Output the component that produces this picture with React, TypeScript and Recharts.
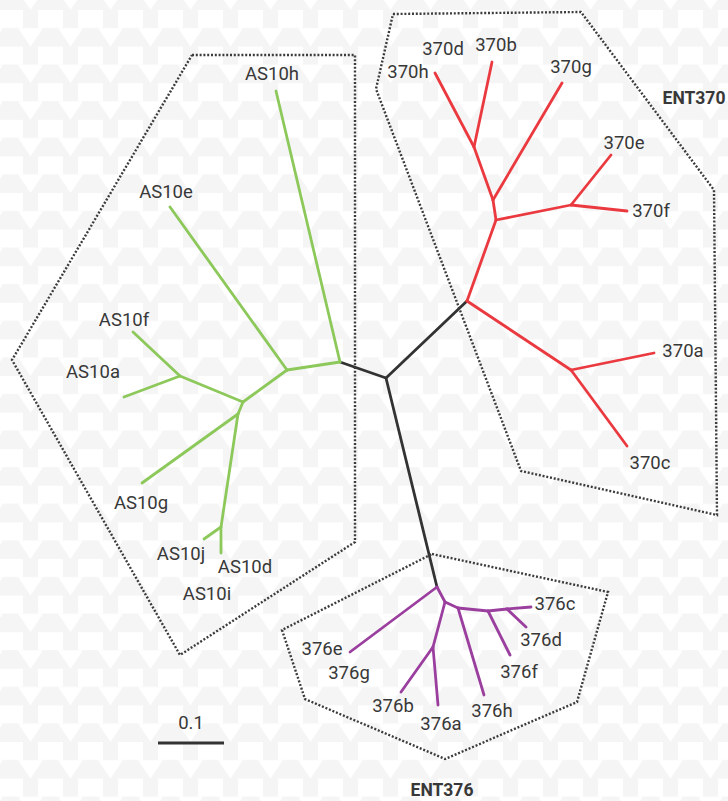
import React from 'react';
import { ComposedChart, XAxis, YAxis, Scatter, ReferenceLine } from 'recharts';

// Tree layout (unrooted tree), node id, x, y in layout units
const coreNodes: [string, number, number][] = [
  ['root', 386, 378],
  ['g0', 340, 362],
  ['r0', 467, 301],
  ['p0', 437, 587],
];
const as10Nodes: [string, number, number][] = [
  ['g1', 287, 370], ['g2', 243, 402], ['g3', 180, 376], ['g4', 238, 414], ['g5', 221, 527],
  ['AS10h', 276, 91], ['AS10e', 170, 207], ['AS10f', 133, 332], ['AS10a', 124, 397],
  ['AS10g', 142, 483], ['AS10j', 204, 539], ['AS10d', 221, 553],
];
const ent370Nodes: [string, number, number][] = [
  ['r1', 496, 220], ['r2', 493, 200], ['r3', 474, 147], ['r4', 571, 205], ['r5', 571, 370],
  ['370h', 435, 73], ['370b', 492, 62], ['370g', 562, 83], ['370e', 611, 155],
  ['370f', 627, 211], ['370a', 654, 353], ['370c', 627, 446],
];
const ent376Nodes: [string, number, number][] = [
  ['p1', 445, 602], ['p2', 433, 647], ['p3', 458, 608], ['p4', 488, 611], ['p5', 507, 609],
  ['376e', 350, 652], ['376b', 401, 692], ['376a', 438, 705], ['376h', 484, 695],
  ['376f', 510, 655], ['376c', 531, 607], ['376d', 526, 627],
];

const coreEdges: [string, string][] = [['root', 'g0'], ['root', 'r0'], ['root', 'p0']];
const as10Edges: [string, string][] = [
  ['g0', 'AS10h'], ['g0', 'g1'], ['g1', 'AS10e'], ['g1', 'g2'], ['g2', 'g3'], ['g3', 'AS10f'],
  ['g3', 'AS10a'], ['g2', 'g4'], ['g4', 'AS10g'], ['g4', 'g5'], ['g5', 'AS10j'], ['g5', 'AS10d'],
];
const ent370Edges: [string, string][] = [
  ['r0', 'r1'], ['r1', 'r2'], ['r2', 'r3'], ['r3', '370h'], ['r3', '370b'], ['r2', '370g'],
  ['r1', 'r4'], ['r4', '370e'], ['r4', '370f'], ['r0', 'r5'], ['r5', '370a'], ['r5', '370c'],
];
const ent376Edges: [string, string][] = [
  ['p0', '376e'], ['p0', 'p1'], ['p1', 'p2'], ['p2', '376b'], ['p2', '376a'], ['p1', 'p3'],
  ['p3', '376h'], ['p3', 'p4'], ['p4', '376f'], ['p4', 'p5'], ['p5', '376c'], ['p5', '376d'],
];

const tipLabels = [
  { name: 'AS10h', x: 272, y: 74 }, { name: 'AS10e', x: 166, y: 192 }, { name: 'AS10f', x: 124, y: 320 },
  { name: 'AS10a', x: 93, y: 372 }, { name: 'AS10g', x: 141, y: 503 }, { name: 'AS10j', x: 181, y: 554 },
  { name: 'AS10d', x: 245, y: 567 }, { name: 'AS10i', x: 207, y: 594 },
  { name: '370d', x: 443, y: 49 }, { name: '370h', x: 408, y: 72 }, { name: '370b', x: 496, y: 45 },
  { name: '370g', x: 571, y: 67 }, { name: '370e', x: 624, y: 143 }, { name: '370f', x: 651, y: 211 },
  { name: '370a', x: 683, y: 351 }, { name: '370c', x: 650, y: 463 },
  { name: '376e', x: 322, y: 649 }, { name: '376g', x: 349, y: 673 }, { name: '376b', x: 393, y: 706 },
  { name: '376a', x: 441, y: 724 }, { name: '376h', x: 492, y: 711 }, { name: '376f', x: 519, y: 672 },
  { name: '376d', x: 541, y: 640 }, { name: '376c', x: 555, y: 604 },
];
const cladeTitles = [
  { name: 'ENT370', x: 694, y: 98 },
  { name: 'ENT376', x: 442, y: 790 },
];

const as10Hull = [
  { x: 192, y: 55 }, { x: 355, y: 55 }, { x: 355, y: 542 }, { x: 180, y: 655 }, { x: 12, y: 360 }, { x: 192, y: 55 },
];
const ent370Hull = [
  { x: 393, y: 14 }, { x: 581, y: 12 }, { x: 714, y: 190 }, { x: 717, y: 515 }, { x: 521, y: 471 },
  { x: 376, y: 89 }, { x: 393, y: 14 },
];
const ent376Hull = [
  { x: 432, y: 554 }, { x: 608, y: 592 }, { x: 577, y: 702 }, { x: 445, y: 759 }, { x: 305, y: 699 },
  { x: 282, y: 630 }, { x: 432, y: 554 },
];

const scaleBarValue = '0.1';
const scaleBar = [{ x: 158, y: 743 }, { x: 224, y: 743 }];
const scaleBarLabel = [{ name: scaleBarValue, x: 191, y: 723 }];

const allNodes = [...coreNodes, ...as10Nodes, ...ent370Nodes, ...ent376Nodes];
const nodeMap: Record<string, { x: number; y: number }> = {};
allNodes.forEach(([id, x, y]) => { nodeMap[id] = { x, y }; });

const groups = [
  { edges: coreEdges, color: '#333333' },
  { edges: as10Edges, color: '#8cc85a' },
  { edges: ent370Edges, color: '#ea3a40' },
  { edges: ent376Edges, color: '#9b3f9f' },
];

const W = 728;
const H = 801;
const TEXT = '#383838';

const Background = () => (
  <svg width={W} height={H} style={{ position: 'absolute', left: 0, top: 0 }}>
    <defs>
      <pattern id="bgpat" width={40} height={36.6} patternUnits="userSpaceOnUse" patternTransform="translate(38,10)">
        <rect x={0} y={0} width={40} height={36.6} fill="#f5f5f5" />
        <rect x={0} y={0} width={25} height={18} fill="#ffffff" />
        <polygon points="20,18 45,18 32.5,36.6" fill="#ffffff" />
        <polygon points="-20,18 5,18 -7.5,36.6" fill="#ffffff" />
      </pattern>
    </defs>
    <rect x={0} y={0} width={W} height={H} fill="url(#bgpat)" />
  </svg>
);

const labelShape = (size: number, weight: number) => (p: any) => (
  <text
    x={p.cx}
    y={p.cy}
    textAnchor="middle"
    dominantBaseline="central"
    fontFamily="Roboto, sans-serif"
    fontSize={size}
    fontWeight={weight}
    fill={TEXT}
  >
    {p.payload.name}
  </text>
);

const emptyShape = () => <g />;

export default function App() {
  return (
    <div style={{ position: 'absolute', left: 0, top: 0, width: W, height: H }}>
      <Background />
      <div style={{ position: 'absolute', left: 0, top: 0 }}>
        <ComposedChart width={W} height={H} margin={{ top: 0, right: 0, bottom: 0, left: 0 }}>
          <XAxis type="number" dataKey="x" domain={[0, W]} hide />
          <YAxis type="number" dataKey="y" domain={[0, H]} reversed hide />
          {[as10Hull, ent370Hull, ent376Hull].map((hull, i) => (
            <Scatter
              key={'hull' + i}
              data={hull}
              dataKey="y"
              isAnimationActive={false}
              line={{ stroke: '#3c3c3c', strokeWidth: 2.4, strokeDasharray: '2 1.8' }}
              shape={emptyShape}
            />
          ))}
          {groups.map((g) =>
            g.edges.map(([a, b]) => (
              <ReferenceLine
                key={a + '-' + b}
                segment={[nodeMap[a], nodeMap[b]]}
                stroke={g.color}
                strokeWidth={2.8}
                strokeLinecap="round"
                ifOverflow="visible"
              />
            ))
          )}
          <ReferenceLine segment={scaleBar} stroke="#333333" strokeWidth={3} ifOverflow="visible" />
          <Scatter data={tipLabels} dataKey="y" isAnimationActive={false} shape={labelShape(18.5, 400)} />
          <Scatter data={scaleBarLabel} dataKey="y" isAnimationActive={false} shape={labelShape(18.5, 400)} />
          <Scatter data={cladeTitles} dataKey="y" isAnimationActive={false} shape={labelShape(17.5, 700)} />
        </ComposedChart>
      </div>
    </div>
  );
}
